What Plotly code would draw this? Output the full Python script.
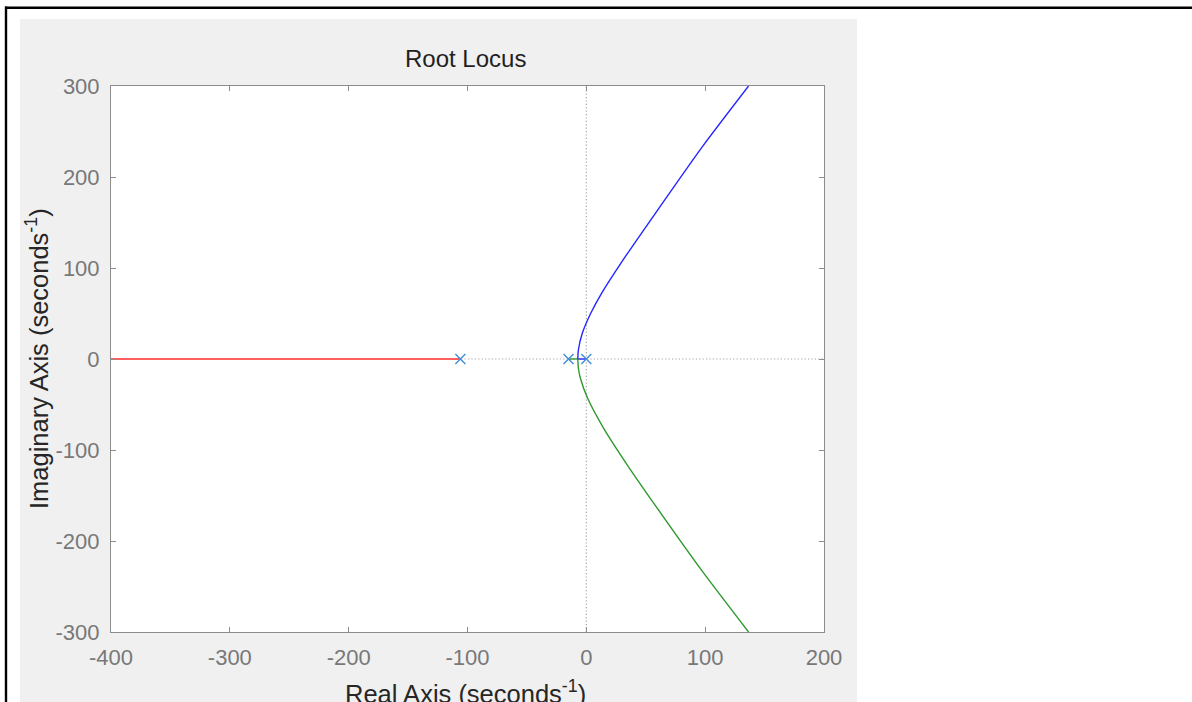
import plotly.graph_objects as go

# ---- data -------------------------------------------------------------
# open-loop poles (real parts; all on the real axis)
pole_re = [-106, -15, 0]
pole_im = [0, 0, 0]

# branch leaving the pole at -106 towards -infinity
red_re = [-106, -420]
red_im = [0, 0]

# branch from the pole at 0: along the real axis to the break-away point, then upward
blue_axis_re = [0, -7.2]
blue_axis_im = [0, 0]
blue_re = [-7.2, -6.7, -3.4, 3.7, 12.8, 29.0, 60.0, 98.0, 136.5]
blue_im = [0, 9.9, 28.2, 50.2, 72.2, 105.2, 163.7, 234.0, 300.0]

# branch from the pole at -15: to the break-away point, then downward
green_axis_re = [-15, -7.2]
green_axis_im = [0, 0]
green_re = [-7.2, -6.7, -5.0, 1.1, 14.6, 34.5, 56.8, 98.0, 136.5]
green_im = [0, -9.9, -21.2, -43.2, -76.2, -116.5, -158.6, -234.0, -300.0]

x_ticks = [-400, -300, -200, -100, 0, 100, 200]
x_tick_text = ["-400", "-300", "-200", "-100", "0", "100", "200"]
y_ticks = [-300, -200, -100, 0, 100, 200, 300]
y_tick_text = ["-300", "-200", "-100", "0", "100", "200", "300"]

# ---- figure geometry (pixels) ------------------------------------------
W, H = 1192, 702
L, R, T, B = 111, 824, 86, 632
pw, ph = R - L, B - T


def px(xpix):
    return (xpix - L) / pw


def py(ypix):
    return (B - ypix) / ph


FONT = "Liberation Sans, Arial, Helvetica, sans-serif"
AX_COLOR = "#8c8c8c"
TICK_FONT = dict(family=FONT, size=22, color="#787878")
PANEL = "#f0f0f0"

fig = go.Figure()

line_w = 1.4
spline = dict(shape="spline", smoothing=0.55)
fig.add_trace(go.Scatter(x=red_re, y=red_im, mode="lines",
                         line=dict(color="#ff5f5f", width=1.8), hoverinfo="skip"))
fig.add_trace(go.Scatter(x=green_axis_re, y=green_axis_im, mode="lines",
                         line=dict(color="#2e9a2e", width=line_w), hoverinfo="skip"))
fig.add_trace(go.Scatter(x=blue_axis_re, y=blue_axis_im, mode="lines",
                         line=dict(color="#2626ff", width=line_w), hoverinfo="skip"))
fig.add_trace(go.Scatter(x=blue_re, y=blue_im, mode="lines",
                         line=dict(color="#2626ff", width=line_w, **spline),
                         hoverinfo="skip"))
fig.add_trace(go.Scatter(x=green_re, y=green_im, mode="lines",
                         line=dict(color="#2e9a2e", width=line_w, **spline),
                         hoverinfo="skip"))
fig.add_trace(go.Scatter(x=pole_re, y=pole_im, mode="markers",
                         marker=dict(symbol="x-thin", size=10,
                                     line=dict(color="#3d8fd6", width=1.4)),
                         hoverinfo="skip"))

shapes = []
# dotted reference lines through the origin
dot = dict(color="#a6a6a6", width=1.2, dash="1.2px,2.2px")
shapes.append(dict(type="line", xref="x", yref="paper", x0=0, x1=0, y0=0, y1=1,
                   line=dot, layer="below"))
shapes.append(dict(type="line", xref="paper", yref="y", x0=0, x1=1, y0=0, y1=0,
                   line=dot, layer="below"))

# white surround outside the grey figure panel
white = dict(color="rgba(0,0,0,0)", width=0)
shapes.append(dict(type="rect", xref="paper", yref="paper",
                   x0=px(857), x1=px(W + 5), y0=py(H + 5), y1=py(-5),
                   fillcolor="white", line=white, layer="below"))
shapes.append(dict(type="rect", xref="paper", yref="paper",
                   x0=px(-5), x1=px(857), y0=py(19), y1=py(-5),
                   fillcolor="white", line=white, layer="below"))
shapes.append(dict(type="rect", xref="paper", yref="paper",
                   x0=px(-5), x1=px(20), y0=py(H + 5), y1=py(19),
                   fillcolor="white", line=white, layer="below"))
# black frame lines at top and left
shapes.append(dict(type="line", xref="paper", yref="paper",
                   x0=px(5), x1=px(W + 5), y0=py(7.7), y1=py(7.7),
                   line=dict(color="black", width=2.4)))
shapes.append(dict(type="line", xref="paper", yref="paper",
                   x0=px(6), x1=px(6), y0=py(6.5), y1=py(H + 5),
                   line=dict(color="black", width=2.4)))

annotations = [
    dict(text="Root Locus", xref="paper", yref="paper", x=px(465), y=py(59),
         xanchor="center", yanchor="middle", showarrow=False,
         font=dict(family=FONT, size=24, color="#1f1f1f")),
    dict(text="Real Axis (seconds<sup>-1</sup>)", xref="paper", yref="paper",
         x=px(465), y=py(692), xanchor="center", yanchor="middle", showarrow=False,
         font=dict(family=FONT, size=25.5, color="#262626")),
    dict(text="Imaginary Axis (seconds<sup>-1</sup>)", xref="paper", yref="paper",
         x=px(37), y=py(359), xanchor="center", yanchor="middle", showarrow=False,
         textangle=-90, font=dict(family=FONT, size=25.5, color="#262626")),
]

axis_common = dict(showgrid=False, zeroline=False, showline=True, linecolor=AX_COLOR,
                   linewidth=1, mirror="ticks", ticks="inside", ticklen=5,
                   tickcolor=AX_COLOR, tickwidth=1, tickfont=TICK_FONT, fixedrange=True)

fig.update_layout(
    width=W, height=H,
    margin=dict(l=L, r=W - R, t=T, b=H - B, pad=0),
    paper_bgcolor=PANEL, plot_bgcolor="white",
    showlegend=False,
    xaxis=dict(range=[-400, 200], tickvals=x_ticks, ticktext=x_tick_text,
               ticklabelstandoff=6, **axis_common),
    yaxis=dict(range=[-300, 300], tickvals=y_ticks, ticktext=y_tick_text,
               ticklabelstandoff=6, **axis_common),
    shapes=shapes,
    annotations=annotations,
)

fig.write_html("out.html", config=dict(displayModeBar=False))
